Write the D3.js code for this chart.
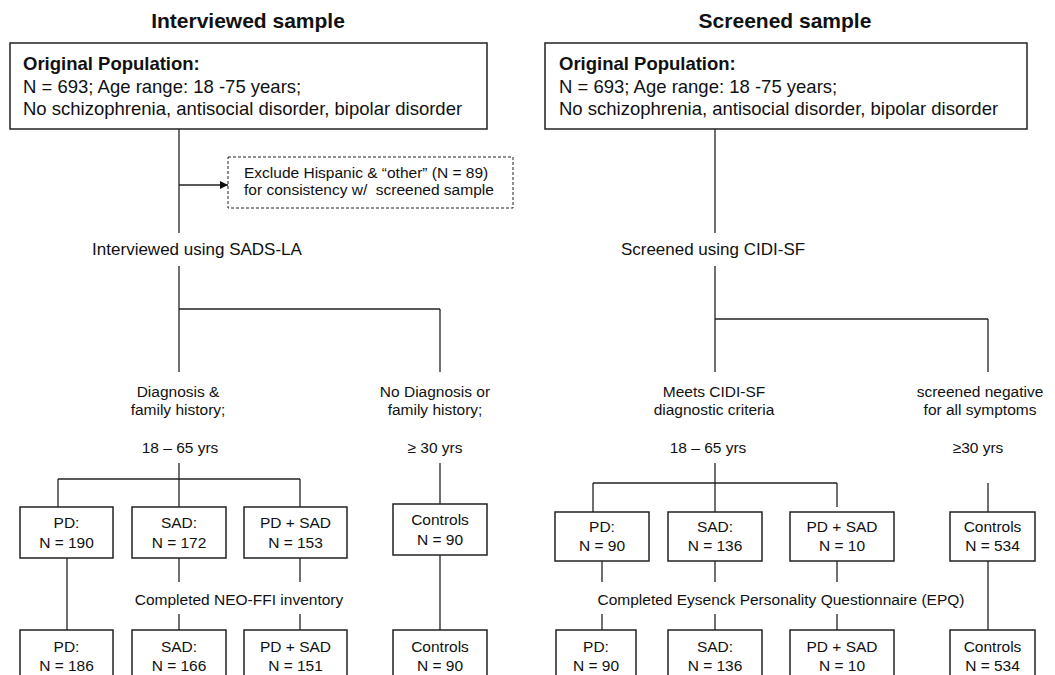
<!DOCTYPE html>
<html>
<head>
<meta charset="utf-8">
<title>Interviewed and screened samples</title>
<script src="https://cdn.jsdelivr.net/npm/d3@7"></script>
<style>
  body { margin: 0; background: #fff; }
  svg text { font-family: "Liberation Sans", Arial, Helvetica, sans-serif; fill: #111; white-space: pre; }
  .line { stroke: #222; stroke-width: 1.3; fill: none; }
  .box { stroke: #222; stroke-width: 1.5; fill: #fff; }
</style>
</head>
<body>
<script>
// ---- chart content ----
var panelTitles = ["Interviewed sample", "Screened sample"];
var originalHead = "Original Population:";
var originalLines = ["N = 693; Age range: 18 -75 years;", "No schizophrenia, antisocial disorder, bipolar disorder"];
var methodLabels = ["Interviewed using SADS-LA", "Screened using CIDI-SF"];
var excludeLines = ["Exclude Hispanic & \u201cother\u201d (N = 89)", "for consistency w/  screened sample"];
var caseLabels = [["Diagnosis &", "family history;"], ["Meets CIDI-SF", "diagnostic criteria"]];
var controlLabels = [["No Diagnosis or", "family history;"], ["screened negative", "for all symptoms"]];
var caseAges = ["18 \u2013 65 yrs", "18 \u2013 65 yrs"];
var controlAges = ["\u2265 30 yrs", "\u226530 yrs"];
var groups = ["PD:", "SAD:", "PD + SAD", "Controls"];
var interviewedN = [190, 172, 153, 90];
var interviewedDone = [186, 166, 151, 90];
var screenedN = [90, 136, 10, 534];
var screenedDone = [90, 136, 10, 534];
var inventoryLabels = ["Completed NEO-FFI inventory", "Completed Eysenck Personality Questionnaire (EPQ)"];

var counts = [[interviewedN, interviewedDone], [screenedN, screenedDone]];

// ---- layout of the two flow panels ----
var layout = [
  { title: 248, top: [10, 43, 487, 129], textX: 23, trunk: 179, method: 197, branchY: 309, ctrlX: 440,
    caseText: 178, ctrlText: 435, caseAge: 180, ctrlAge: 435, ctrlLineTop: 463,
    split: 479, splitX: [58, 179, 300], drop: [507, 507, 507],
    row1: [[20, 113], [132, 226], [244, 347], [393, 487]], row1Top: [507, 507, 507, 504], row1Txt: [21, 41],
    links: [67, 179, 300, 440], gap: [false, true, true, false], inv: 239,
    row2: [[20, 113], [132, 226], [244, 347], [393, 487]] },
  { title: 785, top: [545, 43, 1027, 129], textX: 559, trunk: 715, method: 713, branchY: 319, ctrlX: 988,
    caseText: 714, ctrlText: 980, caseAge: 708, ctrlAge: 978, ctrlLineTop: 483,
    split: 483, splitX: [593, 715, 837], drop: [512, 512, 507],
    row1: [[555, 649], [668, 762], [790, 894], [950, 1035]], row1Top: [512, 512, 512, 512], row1Txt: [20, 39],
    links: [602, 715, 837, 988], gap: [true, true, true, false], inv: 781,
    row2: [[556, 636], [668, 762], [790, 894], [950, 1035]] }
];
var row2Top = 630, gapTop = 582, gapBottom = 614;

var svg = d3.select("body").append("svg")
    .attr("width", 1055)
    .attr("height", 675);

svg.append("defs").append("marker")
    .attr("id", "arrow")
    .attr("viewBox", "0 0 10 10")
    .attr("refX", 10).attr("refY", 5)
    .attr("markerWidth", 9).attr("markerHeight", 8)
    .attr("markerUnits", "userSpaceOnUse")
    .attr("orient", "auto")
  .append("path")
    .attr("d", "M0,0L10,5L0,10Z")
    .attr("fill", "#111");

function seg(g, x1, y1, x2, y2) {
  return g.append("line").attr("class", "line")
    .attr("x1", x1).attr("y1", y1).attr("x2", x2).attr("y2", y2);
}

function label(g, x, y, txt, size, anchor) {
  return g.append("text")
    .attr("x", x).attr("y", y)
    .attr("text-anchor", anchor || "middle")
    .style("font-size", size + "px")
    .text(txt);
}

layout.forEach(function (L, p) {
  var g = svg.append("g");

  // title
  label(g, L.title, 28, panelTitles[p], 21).style("font-weight", "bold");

  // original population box
  g.append("rect").attr("class", "box")
    .attr("x", L.top[0]).attr("y", L.top[1])
    .attr("width", L.top[2] - L.top[0]).attr("height", L.top[3] - L.top[1]);
  label(g, L.textX, 70, originalHead, 18.5, "start").style("font-weight", "bold");
  originalLines.forEach(function (t, i) {
    label(g, L.textX, 93 + i * 22, t, 18.5, "start");
  });

  // trunk with method label
  seg(g, L.trunk, L.top[3], L.trunk, 233);
  label(g, L.method, 255, methodLabels[p], 17);
  seg(g, L.trunk, 266, L.trunk, 372);
  seg(g, L.trunk, L.branchY, L.ctrlX, L.branchY);
  seg(g, L.ctrlX, L.branchY, L.ctrlX, 372);

  // case / control group labels
  caseLabels[p].forEach(function (t, i) { label(g, L.caseText, 397 + i * 18, t, 15.5); });
  controlLabels[p].forEach(function (t, i) { label(g, L.ctrlText, 397 + i * 18, t, 15.5); });
  label(g, L.caseAge, 453, caseAges[p], 15.5);
  label(g, L.ctrlAge, 453, controlAges[p], 15.5);

  // split into diagnostic groups
  seg(g, L.trunk, 463, L.trunk, L.split);
  seg(g, L.splitX[0], L.split, L.splitX[2], L.split);
  L.splitX.forEach(function (x, i) { seg(g, x, L.split, x, L.drop[i]); });
  seg(g, L.ctrlX, L.ctrlLineTop, L.ctrlX, L.row1Top[3]);

  // connectors between the two box rows
  L.links.forEach(function (x, i) {
    var y0 = L.row1Top[i] + (L.row1Txt[1] + 10);
    if (L.gap[i]) {
      seg(g, x, y0, x, gapTop);
      seg(g, x, gapBottom, x, row2Top);
    } else {
      seg(g, x, y0, x, row2Top);
    }
  });
  label(g, L.inv, 605, inventoryLabels[p], 15.5);

  // first row of boxes
  var r1 = g.selectAll(".r1").data(groups).enter().append("g").attr("class", "r1");
  r1.append("rect").attr("class", "box")
    .attr("x", function (d, i) { return L.row1[i][0]; })
    .attr("y", function (d, i) { return L.row1Top[i]; })
    .attr("width", function (d, i) { return L.row1[i][1] - L.row1[i][0]; })
    .attr("height", L.row1Txt[1] + 10);
  r1.append("text")
    .attr("x", function (d, i) { return (L.row1[i][0] + L.row1[i][1]) / 2; })
    .attr("y", function (d, i) { return L.row1Top[i] + L.row1Txt[0]; })
    .attr("text-anchor", "middle").style("font-size", "15.5px")
    .text(function (d) { return d; });
  r1.append("text")
    .attr("x", function (d, i) { return (L.row1[i][0] + L.row1[i][1]) / 2; })
    .attr("y", function (d, i) { return L.row1Top[i] + L.row1Txt[1]; })
    .attr("text-anchor", "middle").style("font-size", "15.5px")
    .text(function (d, i) { return "N = " + counts[p][0][i]; });

  // second row of boxes
  var r2 = g.selectAll(".r2").data(groups).enter().append("g").attr("class", "r2");
  r2.append("rect").attr("class", "box")
    .attr("x", function (d, i) { return L.row2[i][0]; })
    .attr("y", row2Top)
    .attr("width", function (d, i) { return L.row2[i][1] - L.row2[i][0]; })
    .attr("height", 60);
  r2.append("text")
    .attr("x", function (d, i) { return (L.row2[i][0] + L.row2[i][1]) / 2; })
    .attr("y", row2Top + 22)
    .attr("text-anchor", "middle").style("font-size", "15.5px")
    .text(function (d) { return d; });
  r2.append("text")
    .attr("x", function (d, i) { return (L.row2[i][0] + L.row2[i][1]) / 2; })
    .attr("y", row2Top + 41)
    .attr("text-anchor", "middle").style("font-size", "15.5px")
    .text(function (d, i) { return "N = " + counts[p][1][i]; });
});

// exclusion note on the interviewed side
var ex = svg.append("g");
seg(ex, 179, 185, 228, 185).attr("marker-end", "url(#arrow)");
ex.append("rect")
    .attr("x", 228).attr("y", 157).attr("width", 285).attr("height", 51)
    .attr("fill", "none").attr("stroke", "#222").attr("stroke-width", 1)
    .attr("stroke-dasharray", "3,2");
excludeLines.forEach(function (t, i) { label(ex, 244, 178 + i * 17, t, 15.5, "start"); });
</script>
</body>
</html>
